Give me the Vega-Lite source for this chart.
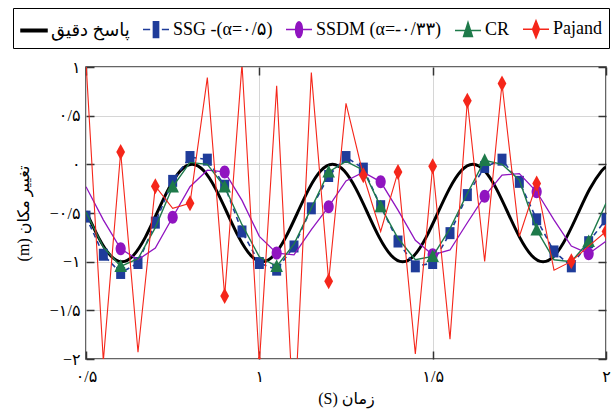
{
  "$schema": "https://vega.github.io/schema/vega-lite/v6.json",
  "width": 520,
  "height": 292,
  "autosize": {"type": "none"},
  "padding": {"left": 86, "top": 67, "right": 10, "bottom": 60},
  "background": "white",
  "datasets": {
    "exact": [
      {"t": 0.5, "y": -0.483}, {"t": 0.536, "y": -0.75}, {"t": 0.5698, "y": -0.933}, {"t": 0.6035, "y": -1},
      {"t": 0.6373, "y": -0.933}, {"t": 0.671, "y": -0.75}, {"t": 0.7048, "y": -0.5}, {"t": 0.7385, "y": -0.25},
      {"t": 0.7723, "y": -0.067}, {"t": 0.806, "y": 0}, {"t": 0.8398, "y": -0.067}, {"t": 0.8735, "y": -0.25},
      {"t": 0.9073, "y": -0.5}, {"t": 0.941, "y": -0.75}, {"t": 0.9748, "y": -0.933}, {"t": 1.0085, "y": -1},
      {"t": 1.0423, "y": -0.933}, {"t": 1.076, "y": -0.75}, {"t": 1.1098, "y": -0.5}, {"t": 1.1435, "y": -0.25},
      {"t": 1.1773, "y": -0.067}, {"t": 1.211, "y": 0}, {"t": 1.2448, "y": -0.067}, {"t": 1.2785, "y": -0.25},
      {"t": 1.3123, "y": -0.5}, {"t": 1.346, "y": -0.75}, {"t": 1.3798, "y": -0.933}, {"t": 1.4135, "y": -1},
      {"t": 1.4473, "y": -0.933}, {"t": 1.481, "y": -0.75}, {"t": 1.5148, "y": -0.5}, {"t": 1.5485, "y": -0.25},
      {"t": 1.5823, "y": -0.067}, {"t": 1.616, "y": 0}, {"t": 1.6498, "y": -0.067}, {"t": 1.6835, "y": -0.25},
      {"t": 1.7173, "y": -0.5}, {"t": 1.751, "y": -0.75}, {"t": 1.7848, "y": -0.933}, {"t": 1.8185, "y": -1},
      {"t": 1.8523, "y": -0.933}, {"t": 1.886, "y": -0.75}, {"t": 1.9198, "y": -0.5}, {"t": 1.9535, "y": -0.25},
      {"t": 1.9873, "y": -0.067}, {"t": 2.0, "y": -0.026}
    ],
    "ssg": [
      {"t": 0.5, "y": -0.537}, {"t": 0.55, "y": -0.929}, {"t": 0.6, "y": -1.116}, {"t": 0.65, "y": -1.014},
      {"t": 0.7, "y": -0.599}, {"t": 0.75, "y": -0.17}, {"t": 0.8, "y": 0.075}, {"t": 0.85, "y": 0.048},
      {"t": 0.9, "y": -0.22}, {"t": 0.95, "y": -0.69}, {"t": 1.0, "y": -1.014}, {"t": 1.05, "y": -1.082},
      {"t": 1.1, "y": -0.844}, {"t": 1.15, "y": -0.452}, {"t": 1.2, "y": -0.12}, {"t": 1.25, "y": 0.075},
      {"t": 1.3, "y": -0.044}, {"t": 1.35, "y": -0.43}, {"t": 1.4, "y": -0.793}, {"t": 1.45, "y": -1.048},
      {"t": 1.5, "y": -1.014}, {"t": 1.55, "y": -0.707}, {"t": 1.6, "y": -0.316}, {"t": 1.65, "y": -0.027},
      {"t": 1.7, "y": 0.048}, {"t": 1.75, "y": -0.18}, {"t": 1.8, "y": -0.565}, {"t": 1.85, "y": -0.895},
      {"t": 1.9, "y": -1.048}, {"t": 1.95, "y": -0.8}, {"t": 2.0, "y": -0.565}
    ],
    "ssdm": [
      {"t": 0.5, "y": -0.23}, {"t": 0.55, "y": -0.57}, {"t": 0.6, "y": -0.867}, {"t": 0.65, "y": -0.98},
      {"t": 0.7, "y": -0.86}, {"t": 0.75, "y": -0.544}, {"t": 0.8, "y": -0.23}, {"t": 0.85, "y": -0.06},
      {"t": 0.9, "y": -0.078}, {"t": 0.95, "y": -0.37}, {"t": 1.0, "y": -0.74}, {"t": 1.05, "y": -0.912},
      {"t": 1.1, "y": -0.93}, {"t": 1.15, "y": -0.67}, {"t": 1.2, "y": -0.435}, {"t": 1.25, "y": -0.17},
      {"t": 1.3, "y": -0.08}, {"t": 1.35, "y": -0.18}, {"t": 1.4, "y": -0.47}, {"t": 1.45, "y": -0.78},
      {"t": 1.5, "y": -0.929}, {"t": 1.55, "y": -0.88}, {"t": 1.6, "y": -0.6}, {"t": 1.65, "y": -0.327},
      {"t": 1.7, "y": -0.11}, {"t": 1.75, "y": -0.095}, {"t": 1.8, "y": -0.282}, {"t": 1.85, "y": -0.57},
      {"t": 1.9, "y": -0.84}, {"t": 1.95, "y": -0.918}, {"t": 2.0, "y": -0.79}
    ],
    "cr": [
      {"t": 0.5, "y": -0.49}, {"t": 0.55, "y": -0.85}, {"t": 0.6, "y": -1.048}, {"t": 0.65, "y": -0.97},
      {"t": 0.7, "y": -0.65}, {"t": 0.75, "y": -0.231}, {"t": 0.8, "y": 0.02}, {"t": 0.85, "y": 0.0},
      {"t": 0.9, "y": -0.231}, {"t": 0.95, "y": -0.62}, {"t": 1.0, "y": -0.95}, {"t": 1.05, "y": -1.048},
      {"t": 1.1, "y": -0.82}, {"t": 1.15, "y": -0.45}, {"t": 1.2, "y": -0.078}, {"t": 1.25, "y": 0.03},
      {"t": 1.3, "y": -0.06}, {"t": 1.35, "y": -0.435}, {"t": 1.4, "y": -0.76}, {"t": 1.45, "y": -0.98},
      {"t": 1.5, "y": -0.946}, {"t": 1.55, "y": -0.66}, {"t": 1.6, "y": -0.3}, {"t": 1.65, "y": 0.041},
      {"t": 1.7, "y": 0.0}, {"t": 1.75, "y": -0.16}, {"t": 1.8, "y": -0.673}, {"t": 1.85, "y": -0.98},
      {"t": 1.9, "y": -1.0}, {"t": 1.95, "y": -0.793}, {"t": 2.0, "y": -0.4}
    ],
    "pajand": [
      {"t": 0.5, "y": 1.05}, {"t": 0.55, "y": -2.02}, {"t": 0.6, "y": 0.126}, {"t": 0.65, "y": -1.93},
      {"t": 0.7, "y": -0.224}, {"t": 0.75, "y": -0.452}, {"t": 0.8, "y": -0.401}, {"t": 0.85, "y": 0.891},
      {"t": 0.9, "y": -1.354}, {"t": 0.95, "y": 1.03}, {"t": 1.0, "y": -2.05}, {"t": 1.05, "y": 0.806},
      {"t": 1.1, "y": -2.69}, {"t": 1.15, "y": 0.942}, {"t": 1.2, "y": -1.2}, {"t": 1.25, "y": 0.626},
      {"t": 1.3, "y": -0.112}, {"t": 1.35, "y": -0.69}, {"t": 1.4, "y": -0.078}, {"t": 1.45, "y": -1.949},
      {"t": 1.5, "y": -0.02}, {"t": 1.55, "y": -1.796}, {"t": 1.6, "y": 0.653}, {"t": 1.65, "y": -0.997},
      {"t": 1.7, "y": 0.83}, {"t": 1.75, "y": -0.741}, {"t": 1.8, "y": -0.197}, {"t": 1.85, "y": -1.088},
      {"t": 1.9, "y": -0.997}, {"t": 1.95, "y": -0.84}, {"t": 2.0, "y": -0.69}
    ]
  },
  "layer": [
    {
      "data": {"name": "exact"},
      "mark": {"type": "line", "color": "black", "strokeWidth": 3, "interpolate": "natural", "clip": true},
      "encoding": {
        "x": {
          "field": "t", "type": "quantitative",
          "scale": {"domain": [0.5, 2], "nice": false, "zero": false},
          "axis": {
            "orient": "bottom", "values": [0.5, 1, 1.5, 2], "grid": true, "tickSize": -8, "labelPadding": 17,
            "labelFlush": false,
            "labelExpr": "datum.value == 0.5 ? '۰/۵' : datum.value == 1 ? '۱' : datum.value == 1.5 ? '۱/۵' : '۲'",
            "title": "(S) زمان", "titlePadding": 6
          }
        },
        "y": {
          "field": "y", "type": "quantitative",
          "scale": {"domain": [-2, 1], "nice": false, "zero": false},
          "axis": {
            "orient": "left", "values": [-2, -1.5, -1, -0.5, 0, 0.5, 1], "grid": true, "tickSize": -8, "labelPadding": 14,
            "labelExpr": "datum.value == 1 ? '۱' : datum.value == 0.5 ? '۰/۵' : datum.value == 0 ? '۰' : datum.value == -0.5 ? '−۰/۵' : datum.value == -1 ? '−۱' : datum.value == -1.5 ? '−۱/۵' : '−۲'",
            "title": "(m) تغییر مکان", "titlePadding": 18
          }
        }
      }
    },
    {
      "data": {"name": "ssg"},
      "mark": {"type": "line", "color": "#1f3c9a", "strokeWidth": 1.6, "strokeDash": [5, 4], "clip": true},
      "encoding": {
        "x": {"field": "t", "type": "quantitative",
          "axis": {"orient": "top", "values": [0.5, 1, 1.5, 2], "labels": false, "grid": false, "tickSize": -8, "title": null}},
        "y": {"field": "y", "type": "quantitative",
          "axis": {"orient": "right", "values": [-2, -1.5, -1, -0.5, 0, 0.5, 1], "labels": false, "grid": false, "tickSize": -8, "title": null}}
      }
    },
    {
      "data": {"name": "ssg"},
      "mark": {"type": "point", "filled": true, "opacity": 1, "color": "#1f3c9a", "shape": "M-0.75,-1H0.75V1H-0.75Z", "size": 144, "clip": true},
      "encoding": {
        "x": {"field": "t", "type": "quantitative", "axis": null},
        "y": {"field": "y", "type": "quantitative", "axis": null}
      }
    },
    {
      "data": {"name": "ssdm"},
      "mark": {"type": "line", "color": "#9014c0", "strokeWidth": 1.3, "clip": true},
      "encoding": {
        "x": {"field": "t", "type": "quantitative", "axis": null},
        "y": {"field": "y", "type": "quantitative", "axis": null}
      }
    },
    {
      "data": {"name": "ssdm"},
      "transform": [{"filter": "indexof([0.6, 0.75, 0.9, 1.05, 1.2, 1.35, 1.5, 1.65, 1.8, 1.95], datum.t) >= 0"}],
      "mark": {"type": "point", "filled": true, "opacity": 1, "color": "#9014c0", "shape": "M0,-1A0.78,1 0 1,1 0,1A0.78,1 0 1,1 0,-1Z", "size": 169, "clip": true},
      "encoding": {
        "x": {"field": "t", "type": "quantitative", "axis": null},
        "y": {"field": "y", "type": "quantitative", "axis": null}
      }
    },
    {
      "data": {"name": "cr"},
      "mark": {"type": "line", "color": "#1e7a4a", "strokeWidth": 1.4, "clip": true},
      "encoding": {
        "x": {"field": "t", "type": "quantitative", "axis": null},
        "y": {"field": "y", "type": "quantitative", "axis": null}
      }
    },
    {
      "data": {"name": "cr"},
      "transform": [{"filter": "indexof([0.6, 0.75, 0.9, 1.05, 1.2, 1.35, 1.5, 1.65, 1.8, 1.95], datum.t) >= 0"}],
      "mark": {"type": "point", "filled": true, "opacity": 1, "color": "#1e7a4a", "shape": "M0,-1L0.9,0.8H-0.9Z", "size": 196, "clip": true},
      "encoding": {
        "x": {"field": "t", "type": "quantitative", "axis": null},
        "y": {"field": "y", "type": "quantitative", "axis": null}
      }
    },
    {
      "data": {"name": "pajand"},
      "mark": {"type": "line", "color": "#f5261a", "strokeWidth": 1.1, "clip": true},
      "encoding": {
        "x": {"field": "t", "type": "quantitative", "axis": null},
        "y": {"field": "y", "type": "quantitative", "axis": null}
      }
    },
    {
      "data": {"name": "pajand"},
      "transform": [{"filter": "indexof([0.6, 0.7, 0.8, 0.9, 1.0, 1.1, 1.2, 1.3, 1.4, 1.5, 1.6, 1.7, 1.8, 1.9, 2.0], datum.t) >= 0"}],
      "mark": {"type": "point", "filled": true, "opacity": 1, "color": "#f5261a", "shape": "M0,-1L0.55,0L0,1L-0.55,0Z", "size": 256, "clip": true},
      "encoding": {
        "x": {"field": "t", "type": "quantitative", "axis": null},
        "y": {"field": "y", "type": "quantitative", "axis": null}
      }
    },
    {
      "data": {"values": [
        {"series": "پاسخ دقیق"}, {"series": "SSG -(α=۰/۵)"}, {"series": "SSDM (α=-۰/۳۳)"}, {"series": "CR"}, {"series": "Pajand"}
      ]},
      "transform": [{"filter": "false"}],
      "mark": {"type": "point", "filled": true},
      "encoding": {
        "fill": {
          "field": "series", "type": "nominal",
          "scale": {"domain": ["پاسخ دقیق", "SSG -(α=۰/۵)", "SSDM (α=-۰/۳۳)", "CR", "Pajand"], "range": ["black", "#1f3c9a", "#9014c0", "#1e7a4a", "#f5261a"]},
          "legend": {"orient": "none", "legendX": -73, "legendY": -59, "direction": "horizontal", "title": null}
        },
        "stroke": {
          "field": "series", "type": "nominal",
          "scale": {"domain": ["پاسخ دقیق", "SSG -(α=۰/۵)", "SSDM (α=-۰/۳۳)", "CR", "Pajand"], "range": ["black", "#1f3c9a", "#9014c0", "#1e7a4a", "#f5261a"]},
          "legend": {"orient": "none", "legendX": -73, "legendY": -59, "direction": "horizontal", "title": null}
        },
        "shape": {
          "field": "series", "type": "nominal",
          "scale": {
            "domain": ["پاسخ دقیق", "SSG -(α=۰/۵)", "SSDM (α=-۰/۳۳)", "CR", "Pajand"],
            "range": [
              "M-1,-0.1H1V0.1H-1Z",
              "M-1,0H-0.45M0.45,0H1M-0.2,-0.6H0.2V0.6H-0.2Z",
              "M-1,0H1M0,-0.6A0.26,0.6 0 1,1 0,0.6A0.26,0.6 0 1,1 0,-0.6Z",
              "M-1,0H1M0,-0.6L0.34,0.48H-0.34Z",
              "M-1,0H1M0,-0.65L0.26,0L0,0.65L-0.26,0Z"
            ]
          },
          "legend": {"orient": "none", "legendX": -73, "legendY": -59, "direction": "horizontal", "title": null}
        }
      }
    }
  ],
  "resolve": {"axis": {"x": "independent", "y": "independent"}},
  "config": {
    "view": {"stroke": "#333333", "strokeWidth": 1.5},
    "axis": {
      "domain": false,
      "gridColor": "#d6d6d6",
      "gridWidth": 1,
      "tickColor": "#333333",
      "tickWidth": 1.5,
      "labelFont": "Liberation Serif, DejaVu Sans",
      "labelFontSize": 16,
      "labelColor": "black",
      "titleFont": "Liberation Serif, DejaVu Sans",
      "titleFontSize": 16,
      "titleFontWeight": "normal",
      "titleColor": "black"
    },
    "legend": {
      "symbolSize": 676,
      "symbolStrokeWidth": 1.5,
      "symbolOpacity": 1,
      "labelFont": "Liberation Serif, DejaVu Sans",
      "labelFontSize": 18,
      "labelColor": "black",
      "labelOffset": 3,
      "labelLimit": 300,
      "columnPadding": 10,
      "padding": 7,
      "strokeColor": "black",
      "fillColor": "white"
    }
  }
}
